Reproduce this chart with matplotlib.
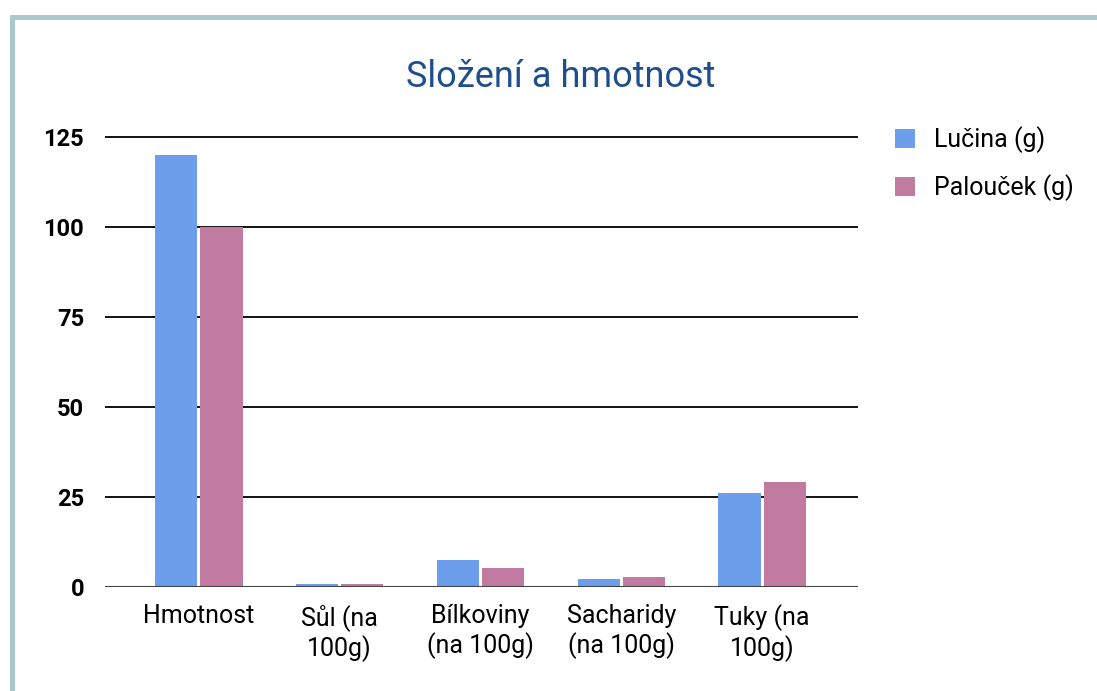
import numpy as np
import matplotlib.pyplot as plt
from matplotlib.lines import Line2D
from matplotlib.patches import Patch

plt.rcParams['font.family'] = ['Roboto', 'DejaVu Sans']

kategorie = ['Hmotnost', 'Sůl (na\n100g)', 'Bílkoviny\n(na 100g)', 'Sacharidy\n(na 100g)', 'Tuky (na\n100g)']
lucina = [120, 0.7, 7.4, 2.3, 26.1]
paloucek = [100, 0.8, 5.4, 2.8, 29.2]
serie = ['Lučina (g)', 'Palouček (g)']
barvy = ['#6d9eeb', '#c27ba0']

fig = plt.figure(figsize=(10.97, 6.91), dpi=100)
ax = fig.add_axes([0.0957, 0.1505, 0.782 - 0.0957, 0.8043 - 0.1505])

x = np.arange(len(kategorie))
w = 0.3
ax.bar(x - w / 2 - 0.01, lucina, w, color=barvy[0], zorder=3)
ax.bar(x + w / 2 + 0.01, paloucek, w, color=barvy[1], zorder=3)

ax.set_xlim(-0.667, 4.68)
ax.set_ylim(0, 125.5)
ax.set_yticks([0, 25, 50, 75, 100, 125])
ax.yaxis.grid(True, color='black', linewidth=1.3, zorder=0)
ax.axhline(0, color='#444444', linewidth=1.5, zorder=4)
for s in ax.spines.values():
    s.set_visible(False)

ax.set_xticks(x)
ax.set_xticklabels(kategorie, fontsize=18, linespacing=1.22)
ax.tick_params(axis='x', length=0, pad=12)
ax.tick_params(axis='y', length=0, pad=15, labelsize=17)
for t in ax.get_yticklabels():
    t.set_fontweight('bold')

fig.text(0.511, 0.888, 'Složení a hmotnost', ha='center', va='center',
         fontsize=26, color='#1f4e8c')

handles = [Patch(facecolor=c, edgecolor='none') for c in barvy]
fig.legend(handles, serie, loc='upper left', bbox_to_anchor=(0.816, 0.817),
           frameon=False, fontsize=18, handlelength=0.8, handleheight=0.8,
           handletextpad=0.75, labelspacing=0.85, borderaxespad=0, borderpad=0)

# ramecek
fig.add_artist(Line2D([0.011, 1.0], [0.975, 0.975], color='#a8c8cc', linewidth=3.6,
                      solid_capstyle='butt'))
fig.add_artist(Line2D([0.011, 0.011], [0.0, 0.975], color='#a8c8cc', linewidth=3.6,
                      solid_capstyle='projecting'))

fig.savefig('out.png', dpi=100)
